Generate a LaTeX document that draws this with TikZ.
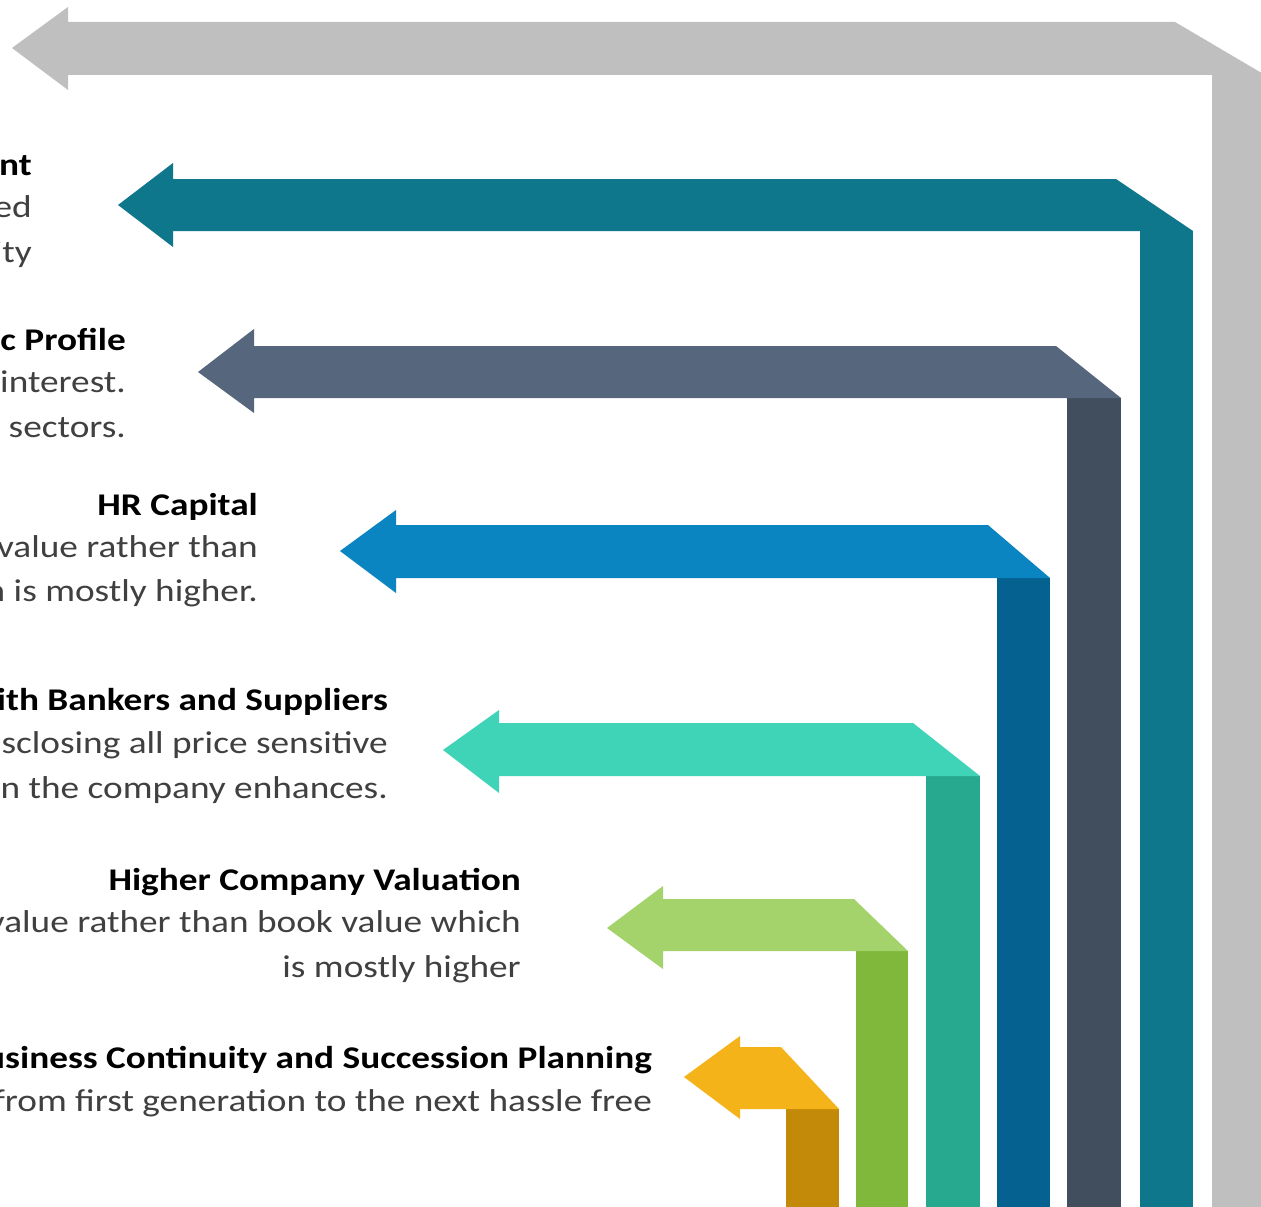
\documentclass[tikz,border=0pt]{standalone}
\usepackage{fontspec}
\usepackage{graphicx}
\setmainfont{Carlito}
\definecolor{ribgray}{HTML}{BFBFBF}
\definecolor{ribteal}{HTML}{0F778C}
\definecolor{ribslate}{HTML}{56677D}
\definecolor{ribslatedk}{HTML}{414E5D}
\definecolor{ribblue}{HTML}{0B84C2}
\definecolor{ribbluedk}{HTML}{05618F}
\definecolor{ribturq}{HTML}{3FD4B8}
\definecolor{ribturqdk}{HTML}{27A990}
\definecolor{ribgreen}{HTML}{A4D36B}
\definecolor{ribgreendk}{HTML}{7FB83A}
\definecolor{ribyellow}{HTML}{F5B31A}
\definecolor{ribyellowdk}{HTML}{C38A09}
\definecolor{bodygray}{HTML}{404040}
% Calibri-style text, slightly widened
\newcommand\widetext[1]{\scalebox{1.18}[1]{#1}}
\tikzset{
  headline/.style={anchor=base east, inner sep=0pt, text=black,
    font=\fontsize{31.6}{38}\selectfont\bfseries},
  bodyline/.style={anchor=base east, inner sep=0pt, text=bodygray,
    font=\fontsize{31.6}{38}\selectfont},
}
\begin{document}
\begin{tikzpicture}[x=1pt,y=-1pt]
\useasboundingbox (0,0) rectangle (1261,1207);
\fill[white] (0,0) rectangle (1261,1207);
\clip (0,0) rectangle (1261,1207);

% outer gray ribbon
\fill[ribgray] (1212,75) rectangle (1265,1207);
\fill[ribgray] (12,48) -- (68,7) -- (68,22) -- (1175,22) -- (1265,75)
  -- (68,75) -- (68,90) -- cycle;

% teal ribbon
\fill[ribteal] (1140,231) rectangle (1193,1207);
\fill[ribteal] (118,205) -- (173,163) -- (173,179) -- (1116,179) -- (1193,231)
  -- (173,231) -- (173,247) -- cycle;

% slate ribbon
\fill[ribslatedk] (1067,398) rectangle (1121,1207);
\fill[ribslate] (198,372) -- (254,329) -- (254,346) -- (1056,346) -- (1121,398)
  -- (254,398) -- (254,413) -- cycle;

% blue ribbon
\fill[ribbluedk] (997,578) rectangle (1050,1207);
\fill[ribblue] (340,551) -- (396,510) -- (396,525) -- (988,525) -- (1050,578)
  -- (396,578) -- (396,593) -- cycle;

% turquoise ribbon
\fill[ribturqdk] (926,776) rectangle (980,1207);
\fill[ribturq] (443,750) -- (499,710) -- (499,723) -- (913,723) -- (980,776)
  -- (499,776) -- (499,793) -- cycle;

% green ribbon
\fill[ribgreendk] (856,951) rectangle (908,1207);
\fill[ribgreen] (607,928) -- (663,886) -- (663,899) -- (854,899) -- (908,951)
  -- (663,951) -- (663,969) -- cycle;

% yellow ribbon
\fill[ribyellowdk] (786,1109) rectangle (839,1207);
\fill[ribyellow] (684,1077) -- (740,1036) -- (740,1047) -- (781,1047) -- (839,1109)
  -- (740,1109) -- (740,1119) -- cycle;

% labels
\node[headline] (t1a) at (32,175) {\widetext{nt}};
\node[bodyline] (t1b) at (32,217) {\widetext{ed}};
\node[bodyline] (t1c) at (32,262) {\widetext{ity}};

\node[headline] (t2a) at (126,350) {\widetext{c Profile}};
\node[bodyline] (t2b) at (126,392) {\widetext{interest.}};
\node[bodyline] (t2c) at (126,437) {\widetext{sectors.}};

\node[headline] (t3a) at (258,515) {\widetext{HR Capital}};
\node[bodyline] (t3b) at (258,557) {\widetext{value rather than}};
\node[bodyline] (t3c) at (258,601) {\widetext{n is mostly higher.}};

\node[headline] (t4a) at (388,710) {\widetext{ith Bankers and Suppliers}};
\node[bodyline] (t4b) at (388,753) {\widetext{sclosing all price sensitive}};
\node[bodyline] (t4c) at (388,798) {\widetext{on the company enhances.}};

\node[headline] (t5a) at (521,890) {\widetext{Higher Company Valuation}};
\node[bodyline] (t5b) at (521,932) {\widetext{value rather than book value which}};
\node[bodyline] (t5c) at (521,977) {\widetext{is mostly higher}};

\node[headline] (t6a) at (652,1068) {\widetext{usiness Continuity and Succession Planning}};
\node[bodyline] (t6b) at (652,1111) {\widetext{from first generation to the next hassle free}};
\end{tikzpicture}
\end{document}
